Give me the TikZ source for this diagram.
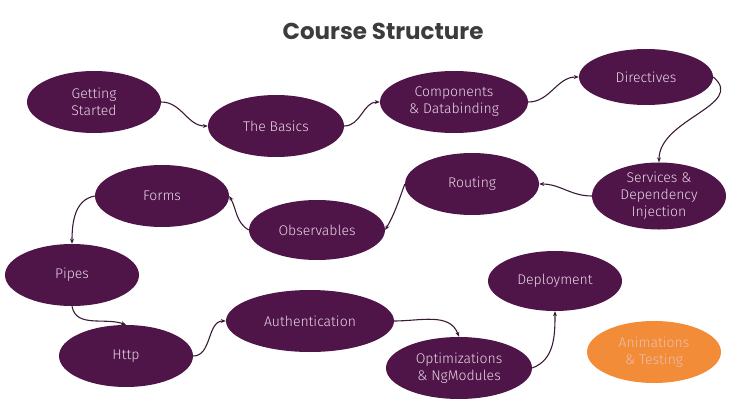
\documentclass[tikz,border=0pt]{standalone}
\usepackage{fontspec}
\setmainfont{Fira Sans}[UprightFont=* Light]
\newfontfamily\titlefont{Poppins}
\usepackage{tikz}
\usetikzlibrary{shapes.geometric,arrows.meta}
\definecolor{plum}{HTML}{4F1548}
\definecolor{plumtext}{HTML}{E8D6E6}
\definecolor{linkcol}{HTML}{3B1A36}
\definecolor{orangefill}{HTML}{F28C38}
\definecolor{titlegray}{HTML}{3C3C3C}

\begin{document}
\begin{tikzpicture}[x=1pt,y=-1pt,
  topic/.style={ellipse,fill=plum,text=plumtext,inner sep=0pt,align=center,
    font=\fontsize{14}{17}\selectfont,minimum width=134pt,minimum height=62pt},
  extra/.style={topic,fill=orangefill,text=plumtext!70!orangefill},
  link/.style={draw=linkcol,line width=1.1pt,-{Stealth[length=5pt,width=4pt]}}]
\useasboundingbox (0,0) rectangle (736,404);
\node[font=\titlefont\bfseries\fontsize{23}{26}\selectfont,text=titlegray] (title) at (383,31) {Course Structure};
\node[topic] (start) at (94,102) {Getting\\Started};
\node[topic,minimum width=136pt] (basics) at (276,126) {The Basics};
\node[topic,minimum width=148pt] (comp) at (454,102) {Components\\\& Databinding};
\node[topic,minimum height=56pt] (dir) at (646,77) {Directives};
\node[topic,minimum height=64pt] (serv) at (659,196) {Services \&\\Dependency\\Injection};
\node[topic] (rout) at (472,184) {Routing};
\node[topic,minimum width=136pt,minimum height=60pt] (obs) at (317,230) {Observables};
\node[topic] (forms) at (162,196) {Forms};
\node[topic] (pipes) at (72,275) {Pipes};
\node[topic] (http) at (126,356) {Http};
\node[topic,minimum width=168pt] (auth) at (310,321) {Authentication};
\node[topic,minimum width=146pt] (optim) at (459,368) {Optimizations\\\& NgModules};
\node[topic,minimum height=60pt] (deploy) at (555,281) {Deployment};
\node[extra] (anim) at (654,352) {Animations\\\& Testing};
% path through the course
\draw[link] (start.east) to[out=0,in=180] (basics.west);
\draw[link] (basics.east) to[out=0,in=180] (comp.west);
\draw[link] (comp.east) to[out=0,in=180] (dir.west);
\draw[link] (dir.east) to[out=-40,in=90,looseness=1.1] (serv.north);
\draw[link] (serv.west) to[out=180,in=0] (rout.east);
\draw[link] (rout.west) to[out=-110,in=60] (obs.east);
\draw[link] (obs.west) to[out=150,in=-60] (forms.east);
\draw[link] (forms.west) to[out=190,in=90] (pipes.north);
\draw[link] (pipes.south) to[out=-80,in=160] (http.north);
\draw[link] (http.east) to[out=0,in=180] (auth.west);
\draw[link] (auth.east) to[out=0,in=110] (optim.north);
\draw[link] (optim.east) to[out=20,in=-90] (deploy.south);
\end{tikzpicture}
\end{document}
